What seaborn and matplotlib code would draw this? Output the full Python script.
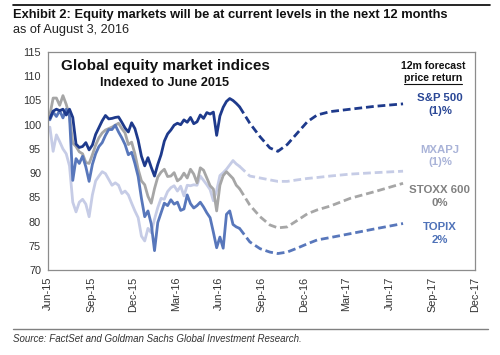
import numpy as np
import pandas as pd
import seaborn as sns
import matplotlib
matplotlib.use('Agg')
import matplotlib.pyplot as plt
import matplotlib.dates as mdates
from matplotlib.lines import Line2D

# weekly history, indexed to June 2015
hist_dates = pd.date_range('2015-06-05', periods=59, freq='7D')

spx = [101.3, 102.8, 103.2, 102.9, 103.2, 102.0, 103.2, 101.5, 96.0, 95.3,
       95.5, 96.3, 94.8, 95.8, 98.0, 99.4, 100.8, 101.9, 101.2, 101.3,
       101.5, 101.6, 100.5, 99.3, 98.5, 100.4, 99.2, 96.8, 93.5, 91.5,
       93.2, 91.2, 89.4, 91.8, 93.8, 96.6, 98.1, 98.9, 99.9, 100.3,
       100.0, 101.0, 100.5, 101.5, 100.2, 100.6, 102.0, 101.3, 102.5, 102.2,
       102.6, 97.8, 101.8, 103.6, 104.8, 105.4, 105.0, 104.4, 103.7]

mxapj = [99.5, 94.5, 97.9, 96.5, 95.0, 94.0, 91.5, 84.0, 82.0, 84.0,
         84.6, 83.6, 81.0, 85.5, 88.4, 89.4, 90.3, 89.9, 88.7, 87.5,
         88.0, 87.5, 85.8, 86.3, 85.5, 83.8, 82.2, 80.8, 77.0, 76.0,
         78.6, 77.7, 80.5, 82.9, 84.8, 84.6, 86.2, 87.0, 87.4, 86.3,
         87.3, 85.3, 87.5, 87.4, 87.6, 87.5, 89.4, 88.5, 87.6, 86.6,
         84.3, 86.4, 89.5, 90.1, 90.8, 91.7, 92.6, 91.9, 91.4]

stoxx = [102.0, 105.5, 105.5, 104.0, 106.0, 104.2, 101.8, 96.2, 95.5, 94.4,
         94.0, 92.2, 92.0, 93.8, 95.8, 97.3, 98.3, 98.9, 99.2, 99.5,
         99.9, 100.3, 99.2, 98.3, 95.9, 96.4, 94.0, 90.8, 88.4, 87.6,
         85.2, 83.8, 86.8, 89.2, 90.2, 90.8, 89.3, 89.4, 90.1, 88.4,
         88.9, 90.0, 89.0, 90.8, 89.8, 88.0, 91.1, 90.6, 89.0, 87.4,
         86.7, 82.2, 87.5, 89.5, 90.3, 89.6, 88.9, 87.5, 86.8]

topix = [101.0, 102.6, 101.7, 102.9, 101.4, 103.2, 101.8, 88.5, 93.0, 92.0,
         93.5, 91.3, 88.3, 91.8, 94.0, 95.5, 96.3, 97.8, 99.0, 99.0,
         99.9, 98.5, 97.3, 95.9, 93.8, 94.3, 92.0, 89.3, 84.8, 81.0,
         82.2, 79.5, 74.0, 79.8, 81.8, 83.8, 83.3, 84.5, 83.6, 84.0,
         82.3, 82.6, 85.5, 83.7, 82.8, 83.3, 84.0, 83.0, 81.8, 80.8,
         77.8, 74.6, 76.8, 74.5, 81.5, 82.2, 79.4, 78.9, 78.6]

# 12m forecast path
fc_dates = pd.to_datetime(['2016-08-06', '2016-08-28', '2016-09-18', '2016-10-05',
                           '2016-10-25', '2016-11-15', '2016-12-07', '2016-12-28',
                           '2017-01-25', '2017-03-09', '2017-05-01', '2017-06-30'])
spx_fc = [100.3, 97.5, 95.2, 94.5, 95.9, 98.2, 100.6, 102.0, 102.7, 103.2, 103.8, 104.3]
mxapj_fc = [89.4, 89.0, 88.6, 88.3, 88.3, 88.6, 88.9, 89.1, 89.4, 89.8, 90.1, 90.4]
stoxx_fc = [83.4, 81.0, 79.3, 78.7, 78.9, 80.2, 81.6, 82.4, 83.2, 84.8, 86.2, 87.9]
topix_fc = [75.8, 74.4, 73.7, 73.4, 73.7, 74.5, 75.4, 76.2, 76.7, 77.5, 78.5, 79.6]

names = ['MXAPJ', 'STOXX 600', 'TOPIX', 'S&P 500']
hist = {'S&P 500': spx, 'MXAPJ': mxapj, 'STOXX 600': stoxx, 'TOPIX': topix}
fcst = {'S&P 500': spx_fc, 'MXAPJ': mxapj_fc, 'STOXX 600': stoxx_fc, 'TOPIX': topix_fc}
ret = {'S&P 500': '(1)%', 'MXAPJ': '(1)%', 'STOXX 600': '0%', 'TOPIX': '2%'}

colors = {'S&P 500': '#1e3a8c', 'MXAPJ': '#c6cce6', 'STOXX 600': '#a6a6a6', 'TOPIX': '#5877bb'}
label_colors = {'S&P 500': '#2a4796', 'MXAPJ': '#a9b3d8', 'STOXX 600': '#808080', 'TOPIX': '#4f72b8'}
label_y = {'S&P 500': 0.759, 'MXAPJ': 0.522, 'STOXX 600': 0.338, 'TOPIX': 0.168}

sns.set_style('white')
plt.rcParams['font.family'] = ['Liberation Sans', 'DejaVu Sans']

fig = plt.figure(figsize=(5, 3.55), dpi=100)
ax = fig.add_axes([0.096, 0.2394, 0.854, 0.614])

for name in names:
    sns.lineplot(x=hist_dates, y=hist[name], color=colors[name], lw=2.0,
                 sort=False, estimator=None, ax=ax)
    # dashed forecast starts from the last actual point
    x_fc = [hist_dates[-1]] + list(fc_dates)
    y_fc = [hist[name][-1]] + fcst[name]
    sns.lineplot(x=x_fc, y=y_fc, color=colors[name], lw=2.0,
                 linestyle=(0, (2.8, 1.4)), sort=False, estimator=None, ax=ax)

ax.set_xlim(pd.Timestamp('2015-06-01'), pd.Timestamp('2017-12-01'))
ax.set_ylim(70, 115)
ax.set_yticks(np.arange(70, 116, 5))
ax.xaxis.set_major_locator(mdates.MonthLocator(bymonth=[3, 6, 9, 12]))
ax.xaxis.set_major_formatter(mdates.DateFormatter('%b-%y'))
ax.set_xlabel('')
ax.set_ylabel('')
plt.setp(ax.get_xticklabels(), rotation=90)
ax.tick_params(axis='both', labelsize=7.8, colors='#333333', length=3, width=0.8,
               direction='out', pad=2)
ax.tick_params(axis='both', color='#808080')
for sp in ax.spines.values():
    sp.set_color('#8c8c8c')
    sp.set_linewidth(0.9)

ax.text(0.274, 0.937, 'Global equity market indices', transform=ax.transAxes,
        ha='center', va='center', fontsize=11, fontweight='bold', color='#111111')
ax.text(0.274, 0.858, 'Indexed to June 2015', transform=ax.transAxes,
        ha='center', va='center', fontsize=9.2, fontweight='bold', color='#111111')
ax.text(0.902, 0.937, '12m forecast', transform=ax.transAxes,
        ha='center', va='center', fontsize=7.6, fontweight='bold', color='#111111')
pr = ax.text(0.902, 0.879, 'price return', transform=ax.transAxes,
             ha='center', va='center', fontsize=7.6, fontweight='bold', color='#111111')

for name in names:
    ax.text(0.918, label_y[name], name + '\n' + ret[name], transform=ax.transAxes,
            ha='center', va='center', fontsize=8.2, fontweight='bold',
            color=label_colors[name], linespacing=1.3)

# titles and rules
fig.add_artist(Line2D([0.026, 0.98], [0.986, 0.986], color='black', lw=1.2))
fig.text(0.026, 0.958, 'Exhibit 2: Equity markets will be at current levels in the next 12 months',
         ha='left', va='center', fontsize=9.3, fontweight='bold', color='#111111')
fig.text(0.026, 0.915, 'as of August 3, 2016', ha='left', va='center', fontsize=9.2,
         color='#222222')
fig.add_artist(Line2D([0.026, 0.976], [0.073, 0.073], color='#808080', lw=1.0))
fig.text(0.026, 0.046, 'Source: FactSet and Goldman Sachs Global Investment Research.',
         ha='left', va='center', fontsize=7, style='italic', color='#333333')

# underline "price return"
fig.canvas.draw()
bb = pr.get_window_extent(fig.canvas.get_renderer()).transformed(fig.transFigure.inverted())
fig.add_artist(Line2D([bb.x0, bb.x1], [bb.y0 - 0.002, bb.y0 - 0.002], color='#111111', lw=0.8))

fig.savefig('out.png', dpi=100)
